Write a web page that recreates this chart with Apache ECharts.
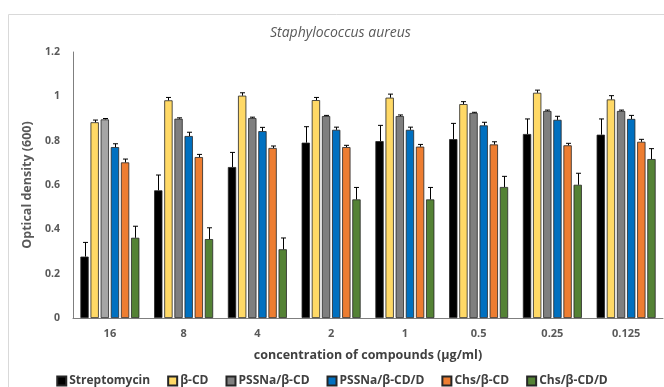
<!DOCTYPE html>
<html>
<head>
<meta charset="utf-8">
<script src="https://cdn.jsdelivr.net/npm/echarts@6/dist/echarts.min.js"></script>
<style>
  html, body { margin: 0; padding: 0; background: #fff; }
  #root { width: 664px; height: 387px; }
</style>
</head>
<body>
<div id="root"></div>
<script>
const categories = ['16', '8', '4', '2', '1', '0.5', '0.25', '0.125']
const seriesNames = ['Streptomycin', 'β-CD', 'PSSNa/β-CD', 'PSSNa/β-CD/D', 'Chs/β-CD', 'Chs/β-CD/D']
const colors = ['#000000', '#FFD966', '#7F7F7F', '#0070C0', '#ED7D31', '#548235']

const streptomycin = [0.277, 0.576, 0.681, 0.791, 0.798, 0.807, 0.830, 0.827]
const bcd = [0.883, 0.982, 1.003, 0.983, 0.994, 0.965, 1.016, 0.986]
const pssna = [0.896, 0.899, 0.902, 0.911, 0.911, 0.925, 0.934, 0.934]
const pssnaD = [0.771, 0.821, 0.843, 0.849, 0.849, 0.869, 0.894, 0.898]
const chs = [0.702, 0.726, 0.767, 0.771, 0.773, 0.783, 0.779, 0.795]
const chsD = [0.362, 0.356, 0.310, 0.535, 0.535, 0.591, 0.601, 0.717]

const errStreptomycin = [0.064, 0.069, 0.066, 0.072, 0.071, 0.071, 0.068, 0.071]
const errBcd = [0.010, 0.013, 0.013, 0.012, 0.016, 0.011, 0.012, 0.017]
const errPssna = [0.004, 0.004, 0.004, 0.003, 0.005, 0.003, 0.004, 0.004]
const errPssnaD = [0.015, 0.017, 0.017, 0.012, 0.012, 0.014, 0.016, 0.016]
const errChs = [0.015, 0.012, 0.009, 0.008, 0.010, 0.012, 0.009, 0.011]
const errChsD = [0.052, 0.051, 0.051, 0.054, 0.054, 0.048, 0.052, 0.047]

const yTicks = [0, 0.2, 0.4, 0.6, 0.8, 1, 1.2]

const values = [streptomycin, bcd, pssna, pssnaD, chs, chsD]
const errors = [errStreptomycin, errBcd, errPssna, errPssnaD, errChs, errChsD]

const catGap = 0.2
const barGap = 0.22
const font = 'Open Sans'

const chart = echarts.init(document.getElementById('root'))

const barSeries = seriesNames.map((name, i) => ({
  type: 'bar',
  name: name,
  data: values[i].map((v, j) => {
    // first PSSNa/β-CD bar is drawn lighter in the original
    if (i === 2 && j === 0) return { value: v, itemStyle: { color: '#A5A5A5' } }
    return v
  }),
  barCategoryGap: (catGap * 100) + '%',
  barGap: (barGap * 100) + '%',
  itemStyle: { color: colors[i], borderColor: '#262626', borderWidth: 0.8 },
  emphasis: { disabled: true }
}))

const errData = []
for (let i = 0; i < values.length; i++) {
  for (let j = 0; j < categories.length; j++) {
    errData.push([j, values[i][j], errors[i][j], i])
  }
}

const errSeries = {
  type: 'custom',
  name: 'err',
  data: errData,
  encode: { x: 0, y: 1 },
  z: 5,
  silent: true,
  renderItem: function (params, api) {
    const cat = api.value(0)
    const v = api.value(1)
    const e = api.value(2)
    const si = api.value(3)
    const catW = api.size([1, 0])[0]
    const groupW = catW * (1 - catGap)
    const n = seriesNames.length
    const w = groupW / (n + (n - 1) * barGap)
    const off = -groupW / 2 + w / 2 + si * w * (1 + barGap)
    const base = api.coord([cat, v])
    const top = api.coord([cat, v + e])
    const x = Math.round(base[0] + off) + 0.5
    const cap = 2.5
    return {
      type: 'group',
      children: [
        { type: 'line', shape: { x1: x, y1: base[1], x2: x, y2: top[1] }, style: { stroke: '#000', lineWidth: 1 } },
        { type: 'line', shape: { x1: x - cap, y1: top[1], x2: x + cap, y2: top[1] }, style: { stroke: '#000', lineWidth: 1 } }
      ]
    }
  }
}

const option = {
  animation: false,
  textStyle: { fontFamily: font },
  graphic: [{
    type: 'rect',
    shape: { x: 8.5, y: 14.5, width: 700, height: 400 },
    style: { fill: 'none', stroke: '#D9D9D9', lineWidth: 1 },
    silent: true
  }],
  title: {
    text: 'Staphylococcus aureus',
    left: 265,
    top: 21,
    textStyle: { fontFamily: font, fontSize: 14, fontStyle: 'italic', fontWeight: 'normal', color: '#595959' }
  },
  legend: {
    data: seriesNames,
    left: 'center',
    top: 370,
    itemWidth: 9,
    itemHeight: 9,
    itemGap: 17,
    icon: 'rect',
    textStyle: { fontFamily: font, fontSize: 12, fontWeight: 'bold', color: '#404040', padding: [0, 0, 0, -2] }
  },
  grid: { left: 73, right: 1, top: 52, bottom: 69, containLabel: false },
  xAxis: {
    type: 'category',
    data: categories,
    name: 'concentration of compounds (µg/ml)',
    nameLocation: 'middle',
    nameGap: 31,
    nameMoveOverlap: false,
    nameTextStyle: { fontFamily: font, fontSize: 12.5, fontWeight: 'bold', color: '#404040' },
    axisLine: { lineStyle: { color: '#7F7F7F', width: 1 } },
    axisTick: { show: false },
    axisLabel: { fontFamily: font, fontSize: 11, fontWeight: 'bold', color: '#595959', margin: 10 }
  },
  yAxis: {
    type: 'value',
    min: 0,
    max: 1.2,
    interval: 0.2,
    name: 'Optical density (600)',
    nameLocation: 'middle',
    nameGap: 39,
    nameMoveOverlap: false,
    nameRotate: 90,
    nameTextStyle: { fontFamily: font, fontSize: 12.5, fontWeight: 'bold', color: '#595959' },
    axisLine: { show: true, lineStyle: { color: '#7F7F7F', width: 1 } },
    axisTick: { show: false },
    splitLine: { show: false },
    axisLabel: {
      fontFamily: font, fontSize: 10.5, fontWeight: 'bold', color: '#595959', margin: 13,
      formatter: v => yTicks.indexOf(+v.toFixed(1)) >= 0 ? String(+v.toFixed(1)) : ''
    }
  },
  series: barSeries.concat([errSeries])
}

chart.setOption(option)
</script>
</body>
</html>
